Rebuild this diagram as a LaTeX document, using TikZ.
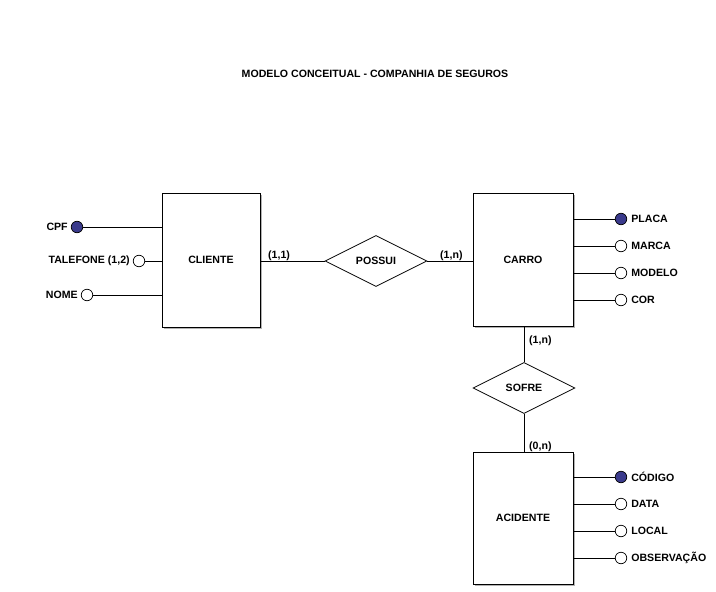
\documentclass[tikz,border=0pt]{standalone}
\usepackage{fontspec}
\setmainfont{Liberation Sans}
\usetikzlibrary{shapes.geometric}
\definecolor{keyblue}{RGB}{58,58,140}
\begin{document}
\begin{tikzpicture}[x=1pt,y=-1pt, font=\fontsize{10.6}{12}\selectfont\bfseries,
 ln/.style={line width=0.9pt},
 entity/.style={draw, line width=0.9pt, fill=white, rectangle, inner sep=0,
   preaction={fill=gray!60, transform canvas={shift={(1.8pt,-1.8pt)}}}},
 rel/.style={draw, diamond, fill=white, line width=0.8pt, minimum width=102pt, minimum height=51pt, inner sep=0},
 attr/.style={draw, circle, fill=white, minimum size=11.5pt, inner sep=0, line width=0.7pt},
 keyattr/.style={attr, fill=keyblue},
 lbl/.style={inner sep=0}]
\useasboundingbox (0,0) rectangle (716,592);
\node (title) at (375,74) {MODELO CONCEITUAL - COMPANHIA DE SEGUROS};
\node[entity, minimum width=98pt, minimum height=134pt] (cliente) at (211,260) {CLIENTE};
\node[entity, minimum width=100pt, minimum height=133pt] (carro) at (523,260) {CARRO};
\node[entity, minimum width=100pt, minimum height=132pt] (acidente) at (523,518) {ACIDENTE};
\node[rel] (possui) at (376,261) {POSSUI};
\node[rel] (sofre) at (524,388) {SOFRE};
% relationships
\draw[ln] (cliente.east |- possui) -- (possui.west);
\draw[ln] (possui.east) -- (carro.west |- possui);
\draw[ln] (carro.south -| sofre) -- (sofre.north);
\draw[ln] (sofre.south) -- (acidente.north -| sofre);
\node[lbl, anchor=base west] (c1) at (268,258.5) {(1,1)};
\node[lbl, anchor=base west] (c2) at (440,258.5) {(1,n)};
\node[lbl, anchor=base west] (c3) at (529,343) {(1,n)};
\node[lbl, anchor=base west] (c4) at (529,449) {(0,n)};
% CLIENTE attributes
\node[keyattr] (cpf) at (77,227) {};
\node[attr] (tel) at (139,261) {};
\node[attr] (nome) at (87,295) {};
\foreach \a in {cpf,tel,nome} \draw[ln] (\a.east) -- (\a.east -| cliente.west);
\node[lbl, anchor=east] (lcpf) at ([xshift=-3pt]cpf.west) {CPF};
\node[lbl, anchor=east] (ltel) at ([xshift=-3pt]tel.west) {TALEFONE (1,2)};
\node[lbl, anchor=east] (lnome) at ([xshift=-3pt]nome.west) {NOME};
% CARRO attributes
\node[keyattr] (placa) at (621,219) {};
\node[attr] (marca) at (621,246) {};
\node[attr] (modelo) at (621,273) {};
\node[attr] (cor) at (621,300) {};
\foreach \a/\t in {placa/PLACA,marca/MARCA,modelo/MODELO,cor/COR}{
  \draw[ln] (\a.west -| carro.east) -- (\a.west);
  \node[lbl, anchor=west] (l\a) at ([xshift=4pt]\a.east) {\t};
}
% ACIDENTE attributes
\node[keyattr] (codigo) at (621,477) {};
\node[attr] (data) at (621,504) {};
\node[attr] (local) at (621,531) {};
\node[attr] (obs) at (621,558) {};
\foreach \a/\t in {codigo/CÓDIGO,data/DATA,local/LOCAL,obs/OBSERVAÇÃO}{
  \draw[ln] (\a.west -| acidente.east) -- (\a.west);
  \node[lbl, anchor=west] (l\a) at ([xshift=4pt]\a.east) {\t};
}
\end{tikzpicture}
\end{document}
